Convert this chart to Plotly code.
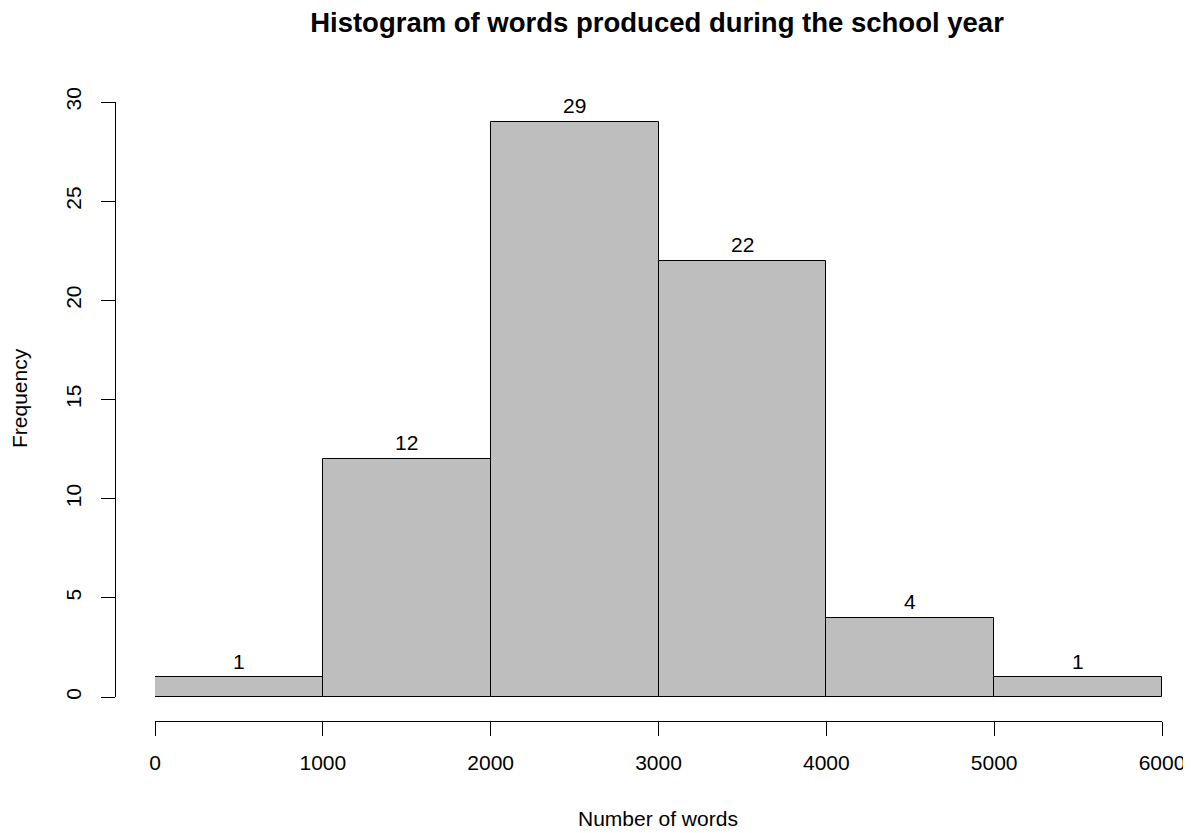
import plotly.graph_objects as go

bin_edges = [0, 1000, 2000, 3000, 4000, 5000, 6000]
counts = [1, 12, 29, 22, 4, 1]
x_ticks = [0, 1000, 2000, 3000, 4000, 5000, 6000]
y_ticks = [0, 5, 10, 15, 20, 25, 30]

title_text = "Histogram of words produced during the school year"
x_title = "Number of words"
y_title = "Frequency"

mids = [(a + b) / 2 for a, b in zip(bin_edges[:-1], bin_edges[1:])]
widths = [b - a for a, b in zip(bin_edges[:-1], bin_edges[1:])]

# page body has an 8px margin; figure is sized to fit the window
OFF = 8
W, H = 1191 - OFF, 833 - OFF
FONT = "Liberation Sans, Arial, sans-serif"


def px(xs):
    return (xs - OFF) / W


def py(ys):
    return 1 - (ys - OFF) / H


fig = go.Figure()
fig.add_trace(go.Bar(
    x=mids, y=counts, width=widths,
    marker=dict(color="#BEBEBE", line=dict(color="black", width=1)),
    cliponaxis=False, showlegend=False, hoverinfo="skip",
))

annotations = [
    dict(text=str(c), x=m, y=c, xref="x", yref="y", xanchor="center",
         yanchor="middle", yshift=16, showarrow=False,
         font=dict(family=FONT, size=21, color="black"))
    for m, c in zip(mids, counts)
]
annotations += [
    dict(text=x_title, x=px(658), y=py(818), xref="paper", yref="paper",
         xanchor="center", yanchor="middle", showarrow=False,
         font=dict(family=FONT, size=21, color="black")),
    dict(text=y_title, x=px(20), y=py(398), xref="paper", yref="paper",
         xanchor="center", yanchor="middle", textangle=-90, showarrow=False,
         font=dict(family=FONT, size=21, color="black")),
]

fig.update_layout(
    width=W, height=H,
    margin=dict(l=0, r=0, t=0, b=0, autoexpand=False),
    paper_bgcolor="white", plot_bgcolor="white",
    font=dict(family=FONT, size=21, color="black"),
    bargap=0,
    title=dict(text="<b>" + title_text + "</b>", x=px(657), xanchor="center",
               y=py(22), yanchor="middle", yref="container",
               font=dict(family=FONT, size=27.5, color="black")),
    xaxis=dict(range=[bin_edges[0], bin_edges[-1]], domain=[px(155), px(1162)],
               anchor="free", position=py(721),
               showline=True, linecolor="black", linewidth=1,
               ticks="outside", ticklen=14, tickcolor="black", tickwidth=1,
               tickvals=x_ticks, ticktext=[str(v) for v in x_ticks],
               showgrid=False, zeroline=False, automargin=False,
               ticklabelstandoff=9,
               tickfont=dict(family=FONT, size=21, color="black")),
    yaxis=dict(range=[y_ticks[0], y_ticks[-1]], domain=[py(697), py(102)],
               anchor="free", position=px(114.5),
               showline=True, linecolor="black", linewidth=1,
               ticks="outside", ticklen=14, tickcolor="black", tickwidth=1,
               tickvals=y_ticks, ticktext=[str(v) for v in y_ticks],
               tickangle=-90,
               showgrid=False, zeroline=False, automargin=False,
               ticklabelstandoff=11,
               tickfont=dict(family=FONT, size=21, color="black")),
    annotations=annotations,
)

fig.write_html("out.html")
